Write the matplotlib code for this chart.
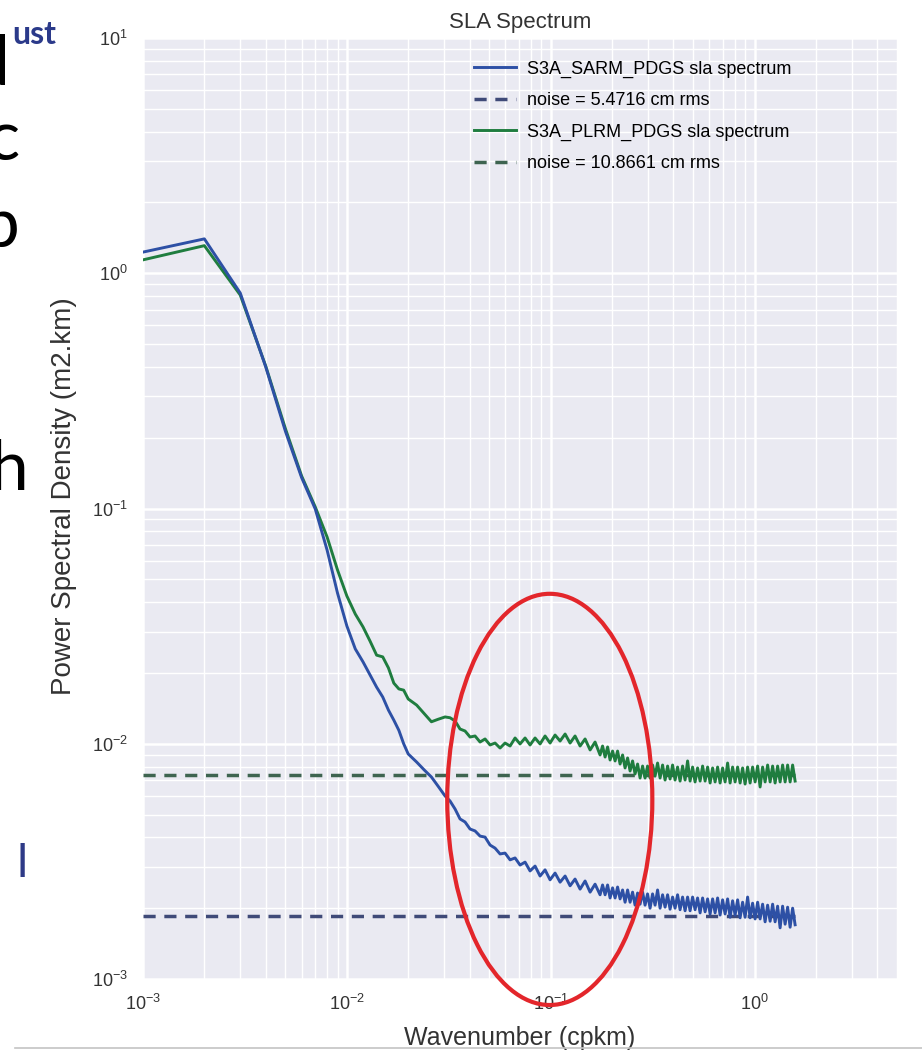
import matplotlib
matplotlib.use("Agg")
import matplotlib.pyplot as plt
from matplotlib.patches import Ellipse
from matplotlib.lines import Line2D
from matplotlib.ticker import NullFormatter

# wavenumber axis (cpkm), shared by both spectra
wavenumber = [
    0.001, 0.002, 0.003, 0.004, 0.005, 0.006, 0.007, 0.008, 0.009, 0.010,
    0.011, 0.012, 0.013, 0.014, 0.015, 0.016, 0.017, 0.018, 0.019, 0.020,
    0.022, 0.024, 0.026, 0.028,
    0.03032, 0.03208, 0.03395, 0.03592, 0.03801, 0.04022, 0.04256, 0.04503,
    0.04765, 0.05042, 0.05335, 0.05645, 0.05973, 0.06320, 0.06688, 0.07076,
    0.07487, 0.07922, 0.08383, 0.08870, 0.09386, 0.09931, 0.1051, 0.1112,
    0.1177, 0.1245, 0.1317, 0.1394, 0.1475, 0.1561, 0.1651,
    0.1747, 0.1797, 0.1849, 0.1902, 0.1956, 0.2012, 0.2070, 0.2129,
    0.2190, 0.2253, 0.2317, 0.2384, 0.2452, 0.2522, 0.2594, 0.2669,
    0.2745, 0.2824, 0.2904, 0.2987, 0.3073, 0.3161, 0.3252, 0.3345,
    0.3441, 0.3540, 0.3641, 0.3746, 0.3852, 0.3963, 0.4076, 0.4193,
    0.4313, 0.4437, 0.4564, 0.4695, 0.4829, 0.4968, 0.5109, 0.5256,
    0.5408, 0.5563, 0.5722, 0.5886, 0.6055, 0.6229, 0.6406, 0.6590,
    0.6778, 0.6973, 0.7172, 0.7378, 0.7589, 0.7807, 0.8030, 0.8261,
    0.8497, 0.8741, 0.8990, 0.9248, 0.9513, 0.9786, 1.0067, 1.0356,
    1.0651, 1.0957, 1.1270, 1.1594, 1.1926, 1.2268, 1.2618, 1.2980,
    1.3351, 1.3734, 1.4128, 1.4533, 1.4949, 1.5378, 1.5817,
]

# S3A SAR mode spectrum (m2.km)
sarm_psd = [
    1.23, 1.40, 0.824, 0.400, 0.2125, 0.1353, 0.0995, 0.0666, 0.0437, 0.0317,
    0.0253, 0.0223, 0.0196, 0.0174, 0.0158, 0.0139, 0.0126, 0.0114, 0.0100, 0.00905,
    0.00836, 0.00773, 0.00722, 0.00661,
    0.00600, 0.00571, 0.00528, 0.00479, 0.00465, 0.00434, 0.00426, 0.00405,
    0.00401, 0.00371, 0.00360, 0.00340, 0.00343, 0.00321, 0.00327, 0.00305,
    0.00314, 0.00288, 0.00302, 0.00274, 0.00291, 0.00264, 0.00282, 0.00258,
    0.00274, 0.00249, 0.00266, 0.00241, 0.00261, 0.00234, 0.00253,
    0.00228, 0.00251, 0.00228, 0.00251, 0.00221, 0.00244, 0.00221, 0.00246,
    0.00219, 0.00239, 0.00212, 0.00239, 0.00212, 0.00234, 0.00206, 0.00232,
    0.00208, 0.00234, 0.00206, 0.00230, 0.00200, 0.00230, 0.00206, 0.00239,
    0.00200, 0.00228, 0.00202, 0.00228, 0.00198, 0.00223, 0.00200, 0.00228,
    0.00197, 0.00223, 0.00195, 0.00223, 0.00195, 0.00223, 0.00197, 0.00221,
    0.00191, 0.00221, 0.00193, 0.00219, 0.00189, 0.00219, 0.00191, 0.00221,
    0.00187, 0.00217, 0.00189, 0.00219, 0.00183, 0.00215, 0.00187, 0.00217,
    0.00182, 0.00212, 0.00183, 0.00223, 0.00182, 0.00210, 0.00180, 0.00212,
    0.00180, 0.00208, 0.00175, 0.00206, 0.00176, 0.00208, 0.00175, 0.00204,
    0.00165, 0.00204, 0.00171, 0.00202, 0.00166, 0.00200, 0.00170,
]

# S3A pseudo-LRM spectrum (m2.km)
plrm_psd = [
    1.14, 1.31, 0.808, 0.403, 0.218, 0.1375, 0.1015, 0.0757, 0.0548, 0.0425,
    0.0356, 0.0314, 0.0273, 0.0238, 0.0234, 0.0210, 0.0181, 0.0171, 0.0169, 0.0155,
    0.0146, 0.0134, 0.0124, 0.0127,
    0.0130, 0.0129, 0.0125, 0.01155, 0.01133, 0.01068, 0.01079, 0.01017,
    0.01048, 0.00988, 0.01007, 0.00959, 0.01007, 0.00978, 0.01058, 0.00998,
    0.01058, 0.00988, 0.01058, 0.00998, 0.01079, 0.01007, 0.01089, 0.01027,
    0.01100, 0.01007, 0.01079, 0.00978, 0.01048, 0.00941, 0.01017,
    0.00896, 0.00978, 0.00878, 0.00969, 0.00853, 0.00931, 0.00845, 0.00931,
    0.00820, 0.00896, 0.00789, 0.00870, 0.00766, 0.00845, 0.00744, 0.00820,
    0.00715, 0.00804, 0.00715, 0.00804, 0.00715, 0.00812, 0.00729, 0.00828,
    0.00715, 0.00812, 0.00701, 0.00804, 0.00708, 0.00812, 0.00701, 0.00796,
    0.00694, 0.00804, 0.00701, 0.00845, 0.00694, 0.00796, 0.00688, 0.00789,
    0.00694, 0.00804, 0.00694, 0.00796, 0.00681, 0.00789, 0.00688, 0.00796,
    0.00681, 0.00789, 0.00688, 0.00828, 0.00681, 0.00796, 0.00688, 0.00796,
    0.00681, 0.00789, 0.00674, 0.00796, 0.00681, 0.00796, 0.00688, 0.00804,
    0.00655, 0.00796, 0.00688, 0.00812, 0.00688, 0.00804, 0.00681, 0.00804,
    0.00688, 0.00812, 0.00688, 0.00812, 0.00688, 0.00812, 0.00694,
]

# white noise levels
sarm_noise = 0.00185
plrm_noise = 0.00736

labels = ["S3A_SARM_PDGS sla spectrum", "noise = 5.4716 cm rms",
          "S3A_PLRM_PDGS sla spectrum", "noise = 10.8661 cm rms"]

# red highlight around the 0.03 - 0.3 cpkm band (data coords for centre)
highlight_center = (0.099, 0.0058)
highlight_size = (0.272, 0.437)  # axes fraction

blue = "#2D50A5"
green = "#1F7D3F"
blue_dash = "#3F4A78"
green_dash = "#3E6450"

plt.rcParams["font.family"] = ["Liberation Sans", "DejaVu Sans"]
plt.rcParams["mathtext.default"] = "regular"

fig = plt.figure(figsize=(9.22, 10.57), dpi=100)
ax = fig.add_axes([143 / 922, 1 - 979 / 1057, 754 / 922, 941 / 1057])
ax.set_facecolor("#EAEAF2")
for s in ax.spines.values():
    s.set_visible(False)

ax.set_xscale("log")
ax.set_yscale("log")

xr = [wavenumber[0], wavenumber[-1]]
l2, = ax.plot(xr, [sarm_noise, sarm_noise], color=blue_dash, lw=2.5,
              dashes=(3.5, 2.5), zorder=2)
l4, = ax.plot(xr, [plrm_noise, plrm_noise], color=green_dash, lw=2.5,
              dashes=(3.5, 2.5), zorder=2)
l3, = ax.plot(wavenumber, plrm_psd, color=green, lw=2.1, zorder=3)
l1, = ax.plot(wavenumber, sarm_psd, color=blue, lw=2.1, zorder=3)

ax.set_xlim(1e-3, 5)
ax.set_ylim(1e-3, 1e1)

ax.grid(True, which="major", color="white", lw=1.8)
ax.grid(True, which="minor", color="white", lw=1.0)
ax.set_axisbelow(True)
ax.tick_params(which="both", length=0, labelsize=13, colors="#333333", pad=11)
ax.xaxis.set_minor_formatter(NullFormatter())
ax.yaxis.set_minor_formatter(NullFormatter())

ax.set_title("SLA Spectrum", fontsize=16, color="#333333", pad=7)
ax.set_xlabel("Wavenumber (cpkm)", fontsize=18, color="#333333")
ax.set_ylabel("Power Spectral Density (m2.km)", fontsize=20, color="#333333")
ax.xaxis.set_label_coords(0.5, -0.050)
ax.yaxis.set_label_coords(-0.088, 0.513)

ax.legend([l1, l2, l3, l4], labels, loc="upper left",
          bbox_to_anchor=(0.439, 0.976), frameon=False, fontsize=13,
          handlelength=2.3, handletextpad=0.65, labelspacing=0.8,
          borderpad=0, borderaxespad=0)

# red ellipse drawn over the plot
cx, cy = ax.transAxes.inverted().transform(ax.transData.transform(highlight_center))
ell = Ellipse((cx, cy), highlight_size[0], highlight_size[1], transform=ax.transAxes,
              fill=False, edgecolor="#E3262B", lw=3.0, clip_on=False, zorder=10)
ax.add_patch(ell)

# fragments of the slide text left of the chart
W, H = 922.0, 1057.0
big = dict(family=["Lato", "DejaVu Sans"], fontsize=50, color="black", ha="right", va="baseline")
fig.text(10 / W, 1 - 85 / H, "d", **big)
fig.text(19 / W, 1 - 160 / H, "c", **big)
fig.text(19 / W, 1 - 247 / H, "p", **big)
fig.text(28 / W, 1 - 490 / H, "h", **big)
fig.text(56 / W, 1 - 44 / H, "ust", family=["Lato", "DejaVu Sans"], fontsize=23,
         fontweight="bold", color="#2B3A8A", ha="right", va="baseline")
fig.text(28 / W, 1 - 877 / H, "l", family=["Lato", "DejaVu Sans"], fontsize=34,
         color="#2E3A87", ha="right", va="baseline")

# slide border line at the bottom
fig.add_artist(Line2D([15 / W, 1], [1 - 1048 / H, 1 - 1048 / H],
                      transform=fig.transFigure, color="#C4C4C4", lw=1.2))

fig.savefig("out.png", dpi=100, facecolor="white")
